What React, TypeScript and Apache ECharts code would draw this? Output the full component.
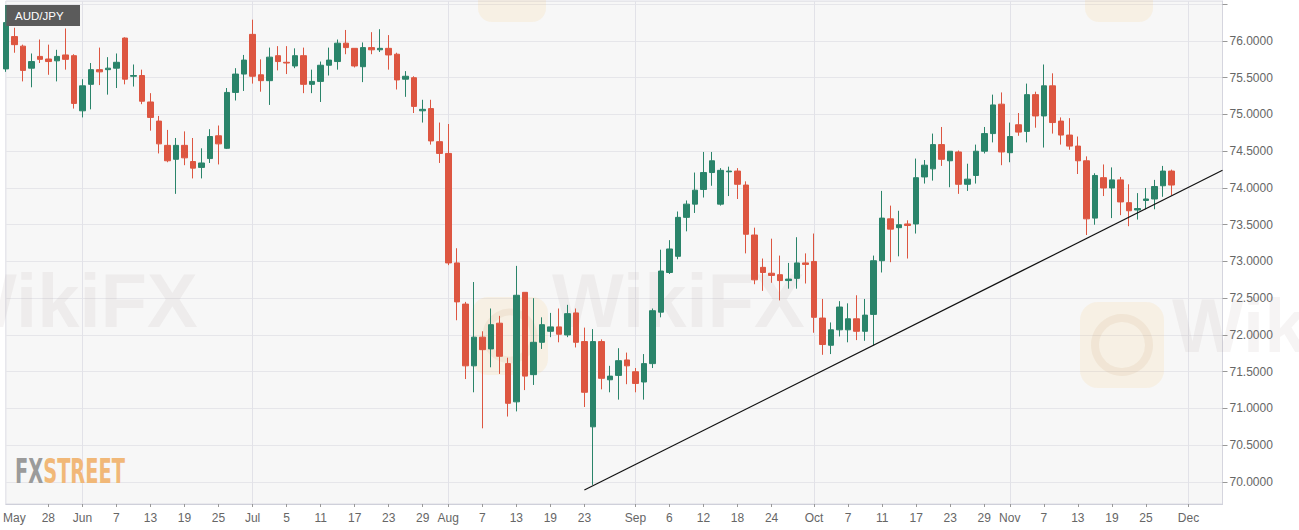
import React, { useEffect, useRef } from 'react';
import * as echarts from 'echarts';

// daily candles, left to right (open / close / low / high)
const opens = [
  75.62, 76.06, 75.93, 75.63, 75.79, 75.755, 75.73, 75.81, 75.8, 75.05,
  75.41, 75.61, 75.61, 75.63, 76.04, 75.52, 75.53, 75.17, 74.91, 74.58,
  74.39, 74.58, 74.36, 74.28, 74.4, 74.71, 74.54, 75.3, 75.55, 76.09,
  75.54, 75.46, 75.8, 75.71, 75.66, 75.8, 75.41, 75.45, 75.67, 75.72,
  75.97, 75.9, 75.65, 75.91, 75.88, 75.9, 75.82, 75.48, 75.5, 75.05,
  75.08, 74.63, 74.47, 72.98, 72.42, 71.58, 71.97, 71.81, 72.16, 71.61,
  71.09, 72.58, 71.46, 71.9, 72.05, 72.11, 72.0, 72.3, 71.91, 70.75,
  71.91, 71.39, 71.45, 71.66, 71.5, 71.36, 71.61, 72.31, 72.85, 73.07,
  73.6, 73.78, 73.98, 74.21, 73.78, 74.22, 74.23, 74.04, 73.36, 72.92,
  72.84, 72.82, 72.74, 72.77, 72.98, 73.0, 72.23, 71.86, 72.07, 72.07,
  72.22, 72.05, 72.28, 73.01, 73.58, 73.46, 73.51, 73.51, 74.15, 74.26,
  74.59, 74.37, 74.49, 74.05, 74.17, 74.5, 74.74, 75.14, 74.48, 74.86,
  74.77, 75.27, 74.98, 75.39, 74.91, 74.72, 74.57, 74.37, 73.59, 74.14,
  74.0, 74.11, 73.8, 73.7, 73.83, 73.85, 74.03, 74.23,
];
const closes = [
  76.25, 75.95, 75.6, 75.72, 75.75, 75.72, 75.79, 75.75, 75.15, 75.39,
  75.61, 75.58, 75.63, 75.71, 75.48, 75.53, 75.18, 74.96, 74.6, 74.37,
  74.58, 74.41, 74.27, 74.34, 74.7, 74.6, 75.3, 75.55, 75.74, 75.52,
  75.46, 75.78, 75.72, 75.7, 75.8, 75.41, 75.45, 75.67, 75.74, 75.97,
  75.91, 75.66, 75.91, 75.88, 75.9, 75.81, 75.47, 75.52, 75.11, 75.07,
  74.64, 74.47, 72.98, 72.45, 71.58, 71.97, 71.8, 72.14, 71.71, 71.07,
  72.54, 71.44, 71.9, 72.14, 72.11, 72.01, 72.29, 71.9, 71.22, 71.91,
  71.41, 71.44, 71.65, 71.58, 71.34, 71.61, 72.33, 72.87, 73.17, 73.6,
  73.78, 73.97, 74.21, 74.37, 74.24, 74.23, 74.05, 73.37, 72.75, 72.85,
  72.81, 72.74, 72.76, 72.98, 72.96, 72.24, 71.87, 72.07, 72.38, 72.22,
  72.05, 72.27, 73.01, 73.59, 73.44, 73.5, 73.49, 74.14, 74.31, 74.59,
  74.39, 74.5, 74.05, 74.12, 74.5, 74.74, 75.13, 74.49, 74.7, 74.76,
  75.27, 74.98, 75.39, 74.89, 74.72, 74.57, 74.37, 73.58, 74.17, 74.0,
  74.11, 73.81, 73.69, 73.72, 73.85, 74.02, 74.23, 74.04,
];
const lows = [
  75.58, 75.84, 75.45, 75.37, 75.7, 75.54, 75.45, 75.61, 75.08, 74.96,
  75.07, 75.4, 75.27, 75.36, 75.41, 75.38, 75.14, 74.78, 74.47, 74.35,
  73.92, 74.31, 74.13, 74.13, 74.34, 74.32, 74.53, 75.19, 75.32, 75.42,
  75.31, 75.13, 75.6, 75.55, 75.63, 75.29, 75.29, 75.17, 75.53, 75.61,
  75.82, 75.64, 75.44, 75.82, 75.85, 75.61, 75.34, 75.24, 75.02, 74.89,
  74.59, 74.34, 72.95, 72.2, 71.4, 71.22, 70.73, 71.56, 71.47, 70.89,
  70.96, 71.25, 71.32, 71.81, 71.97, 71.9, 71.97, 71.83, 71.02, 69.96,
  71.26, 71.22, 71.12, 71.33, 71.22, 71.12, 71.55, 72.24, 72.83, 73.03,
  73.41, 73.66, 73.87, 74.03, 73.76, 73.89, 73.85, 73.11, 72.69, 72.6,
  72.71, 72.47, 72.63, 72.63, 72.7, 72.03, 71.73, 71.74, 71.98, 71.9,
  71.93, 71.92, 71.86, 72.85, 72.99, 73.07, 73.04, 73.38, 74.06, 74.1,
  74.3, 74.01, 73.92, 73.96, 74.06, 74.47, 74.62, 74.31, 74.35, 74.71,
  74.62, 74.82, 74.55, 74.74, 74.59, 74.52, 74.19, 73.36, 73.5, 73.89,
  73.59, 73.63, 73.48, 73.57, 73.71, 73.71, 73.88, 73.9,
];
const highs = [
  76.3, 76.18, 75.95, 75.83, 76.02, 75.95, 75.88, 76.17, 75.82, 75.48,
  75.7, 75.91, 75.78, 75.83, 76.05, 75.68, 75.61, 75.29, 74.98, 74.79,
  74.68, 74.77, 74.68, 74.54, 74.8, 74.85, 75.36, 75.63, 75.81, 76.29,
  75.75, 75.91, 75.93, 75.93, 75.9, 75.91, 75.61, 75.72, 75.91, 76.02,
  76.15, 75.9, 75.98, 76.12, 76.16, 76.08, 75.84, 75.59, 75.52, 75.2,
  75.2, 74.89, 74.87, 73.18, 72.45, 72.72, 72.05, 72.36, 72.26, 71.69,
  72.94, 72.58, 72.5, 72.24, 72.3, 72.36, 72.41, 72.36, 72.1, 72.08,
  71.94, 71.58, 71.82, 71.76, 71.55, 71.74, 72.36, 73.16, 73.29, 73.68,
  73.83, 74.21, 74.49, 74.49, 74.27, 74.29, 74.27, 74.09, 73.46, 73.04,
  73.31, 73.08, 72.98, 73.33, 73.11, 73.38, 72.49, 72.17, 72.46, 72.43,
  72.54, 72.49, 73.08, 73.96, 73.76, 73.69, 73.56, 74.4, 74.38, 74.74,
  74.83, 74.5, 74.51, 74.33, 74.59, 74.83, 75.27, 75.3, 74.89, 75.02,
  75.42, 75.31, 75.68, 75.56, 74.96, 74.95, 74.7, 74.43, 74.2, 74.32,
  74.28, 74.15, 74.05, 73.93, 74.0, 74.11, 74.3, 74.25,
];

// x-axis labels as [bar index, text]
const tickLabels: [number, string][] = [
  [1, 'May'], [5, '28'], [9, 'Jun'], [13, '7'], [17, '13'], [21, '19'], [25, '25'],
  [29, 'Jul'], [33, '5'], [37, '11'], [41, '17'], [45, '23'], [49, '29'],
  [52, 'Aug'], [56, '7'], [60, '13'], [64, '19'], [68, '23'],
  [74, 'Sep'], [78, '6'], [82, '12'], [86, '18'], [90, '24'],
  [95, 'Oct'], [99, '7'], [103, '11'], [107, '17'], [111, '23'], [115, '29'],
  [118, 'Nov'], [122, '7'], [126, '13'], [130, '19'], [134, '25'],
  [139, 'Dec'],
];
const monthNames = ['Jun', 'Jul', 'Aug', 'Sep', 'Oct', 'Nov', 'Dec'];
const slotCount = 144;

// support line drawn by hand on the chart: [bar index, price]
const trendLine = [
  [68, 69.89],
  [143, 74.24],
];

const UP = '#2a846a';
const DOWN = '#dd5641';
const FONT = '"Liberation Sans", Arial, sans-serif';

const App: React.FC = () => {
  const chartRef = useRef<HTMLDivElement>(null);

  useEffect(() => {
    if (!chartRef.current) return;
    const chart = echarts.init(chartRef.current, undefined, { renderer: 'svg' });

    const labelMap = new Map<number, string>(tickLabels);
    const categories = Array.from({ length: slotCount }, (_, i) => String(i));
    const candles = opens.map((o, i) => [o, closes[i], lows[i], highs[i]]);

    const wmText = 'rgba(140, 120, 120, 0.08)';
    const wmBox = 'rgba(246, 200, 120, 0.15)';
    const wmRing = 'rgba(200, 160, 110, 0.12)';
    const wmStyle = { fill: wmText, fontSize: 76, fontWeight: 'bold' as const, fontFamily: FONT, verticalAlign: 'middle' as const };

    const option: echarts.EChartsOption = {
      animation: false,
      backgroundColor: '#fff',
      grid: {
        left: 0,
        right: 76.5,
        top: 1,
        bottom: 26,
        show: true,
        backgroundColor: '#f7f7f7',
        borderColor: '#dcdce4',
        borderWidth: 1,
      },
      xAxis: {
        type: 'category',
        data: categories,
        boundaryGap: false,
        axisLine: { lineStyle: { color: '#cfd0da' } },
        axisTick: {
          length: 3,
          interval: (i: number) => labelMap.has(i) && labelMap.get(i) !== 'May',
          lineStyle: { color: '#999' },
        },
        axisLabel: {
          interval: 0,
          margin: 8,
          color: '#666',
          fontSize: 12,
          fontFamily: FONT,
          formatter: (_v: string, i: number) => labelMap.get(i) ?? '',
        },
        splitLine: {
          show: true,
          interval: (i: number) => monthNames.includes(labelMap.get(i) ?? ''),
          lineStyle: { color: '#e2e2e8' },
        },
      },
      yAxis: {
        type: 'value',
        position: 'right',
        min: 69.7,
        max: 76.544,
        splitNumber: 14,
        minInterval: 0.5,
        maxInterval: 0.5,
        axisLine: { show: true, lineStyle: { color: '#d5d5de' } },
        axisTick: { show: true, length: 5, lineStyle: { color: '#999' } },
        axisLabel: {
          margin: 7,
          color: '#666',
          fontSize: 12,
          fontFamily: FONT,
          showMinLabel: false,
          showMaxLabel: false,
          formatter: (v: number) => (v > 76.2 || v < 69.9 ? '' : v.toFixed(4)),
        },
        splitLine: { lineStyle: { color: '#e6e6ea' } },
      },
      graphic: [
        // faint WikiFX watermarks
        { type: 'rect', z: 1, silent: true, shape: { x: 478, y: -50, width: 68, height: 72, r: 14 }, style: { fill: wmBox } },
        { type: 'rect', z: 1, silent: true, shape: { x: 1085, y: -50, width: 68, height: 72, r: 14 }, style: { fill: wmBox } },
        { type: 'rect', z: 1, silent: true, shape: { x: 472, y: 297, width: 76, height: 78, r: 16 }, style: { fill: wmBox } },
        { type: 'circle', z: 1, silent: true, shape: { cx: 510, cy: 336, r: 24 }, style: { fill: 'none', stroke: wmRing, lineWidth: 7 } },
        { type: 'rect', z: 1, silent: true, shape: { x: 1080, y: 302, width: 84, height: 86, r: 18 }, style: { fill: wmBox } },
        { type: 'circle', z: 1, silent: true, shape: { cx: 1122, cy: 345, r: 27 }, style: { fill: 'none', stroke: wmRing, lineWidth: 8 } },
        { type: 'text', z: 1, silent: true, x: -55, y: 300, style: { text: 'WikiFX', ...wmStyle } },
        { type: 'text', z: 1, silent: true, x: 552, y: 300, style: { text: 'WikiFX', ...wmStyle } },
        { type: 'text', z: 1, silent: true, x: 1172, y: 325, style: { text: 'WikiFX', ...wmStyle } },
        // FXStreet logo
        {
          type: 'text',
          z: 1,
          silent: true,
          x: 15,
          y: 471,
          scaleX: 0.57,
          style: {
            text: '{a|FX}{b|STREET}',
            verticalAlign: 'middle',
            rich: {
              a: { fill: '#9b9b9b', fontSize: 34, fontWeight: 'bold', fontFamily: '"DejaVu Sans", sans-serif' },
              b: { fill: '#f1b878', fontSize: 34, fontWeight: 'bold', fontFamily: '"DejaVu Sans", sans-serif' },
            },
          },
        },
        // pair badge
        { type: 'rect', z: 10, shape: { x: 5, y: 5, width: 75, height: 21 }, style: { fill: '#5b5b5b' } },
        { type: 'rect', z: 10, shape: { x: 5, y: 5, width: 1.5, height: 21 }, style: { fill: '#3f7d6c' } },
        {
          type: 'text',
          z: 11,
          x: 15,
          y: 15.5,
          style: { text: 'AUD/JPY', fill: '#fff', fontSize: 11.5, fontFamily: FONT, verticalAlign: 'middle' },
        },
      ],
      series: [
        {
          type: 'candlestick',
          z: 3,
          barWidth: 6,
          data: candles,
          itemStyle: {
            color: UP,
            color0: DOWN,
            borderColor: UP,
            borderColor0: DOWN,
            borderWidth: 1,
          },
        },
        {
          type: 'line',
          z: 4,
          silent: true,
          data: trendLine,
          symbol: 'none',
          lineStyle: { color: '#111', width: 1.2 },
        },
      ],
    };

    chart.setOption(option);
    return () => {
      chart.dispose();
    };
  }, []);

  return (
    <div
      ref={chartRef}
      style={{ position: 'absolute', left: 0, top: 0, width: 1299, height: 530, background: '#fff' }}
    />
  );
};

export default App;
